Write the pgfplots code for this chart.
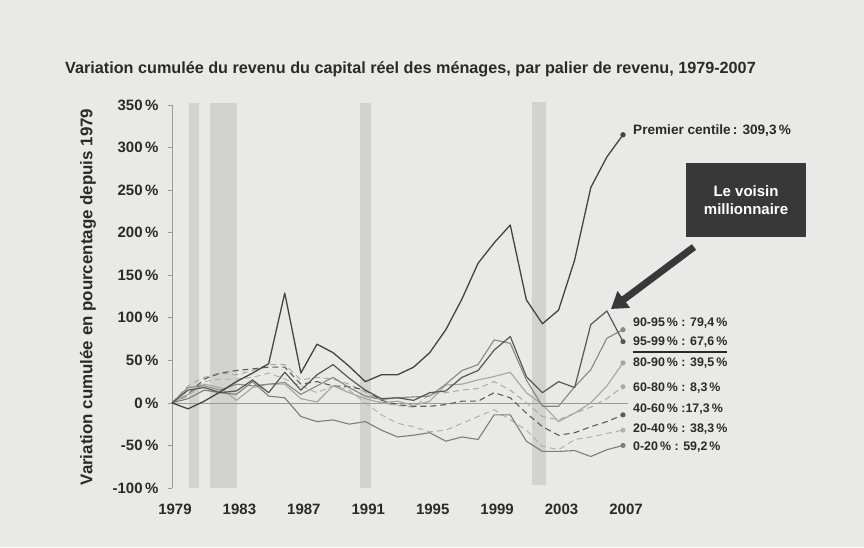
\documentclass[border=0pt]{standalone}
\usepackage{pgfplots}
\usepackage{pgfplotstable}
\pgfplotsset{compat=1.18}
\usepackage{fontspec}
\setmainfont{Liberation Sans}
\usetikzlibrary{arrows.meta}

\definecolor{bg}{HTML}{E9E9E7}
\definecolor{barc}{HTML}{D2D2D0}
\definecolor{txt}{HTML}{2A2A2A}
\definecolor{axc}{HTML}{9A9A9A}
\definecolor{cP}{HTML}{444444}
\definecolor{cA}{HTML}{575757}
\definecolor{cB}{HTML}{878787}
\definecolor{cC}{HTML}{A4A4A4}
\definecolor{cD}{HTML}{A9A9A9}
\definecolor{cE}{HTML}{5C5C5C}
\definecolor{cF}{HTML}{B0B0B0}
\definecolor{cG}{HTML}{7C7C7C}
\definecolor{boxc}{HTML}{383838}

% A = 95-99, B = 90-95, C = 80-90, D = 60-80, E = 40-60, F = 20-40, G = 0-20
\pgfplotstableread{
year P A B C D E F G
1979 0 0 0 0 0 0 0 0
1980 -7 15 18 10 20 10 8 5
1981 2 18 20 22 30 28 25 15
1982 13 12 15 18 35 35 28 12
1983 25 14 22 3 33 38 28 10
1984 35 27 20 18 38 40 30 25
1985 46 12 22 22 45 42 35 8
1986 129 36 24 22 45 42 28 6
1987 35 15 10 5 27 22 20 -16
1988 69 33 20 1 30 25 12 -22
1989 59 45 30 20 28 20 20 -20
1990 43 29 18 12 22 19 15 -25
1991 25 15 8 5 13 15 0 -22
1992 33 5 4 0 0 3 -14 -32
1993 33 6 6 2 -3 -2 -24 -40
1994 42 3 7 -3 -5 -4 -28 -38
1995 59 12 8 2 10 -4 -34 -35
1996 86 14 22 21 12 -2 -32 -45
1997 122 30 38 22 15 2 -24 -40
1998 164 38 45 27 17 2 -16 -43
1999 188 62 74 31 25 12 -8 -14
2000 209 78 70 36 15 6 -20 -14
2001 121 31 27 12 0 -12 -32 -45
2002 93 12 -4 -2 -16 -28 -51 -57
2003 109 25 -4 -22 -20 -38 -55 -57
2004 168 18 19 -12 -12 -35 -43 -56
2005 253 92 39 0 -5 -28 -40 -63
2006 289 108 76 20 5 -22 -36 -55
2007 315 72 86 47 19 -14 -32 -50
}\data

\begin{document}
\begin{tikzpicture}
\fill[bg] (0pt,0pt) rectangle (864pt,547pt);
\node[anchor=base west, inner sep=0pt, text=txt, font=\bfseries\fontsize{16.2}{16.5}\selectfont] at (65pt,473pt)
  {Variation cumulée du revenu du capital réel des ménages, par palier de revenu, 1979-2007};
\node[rotate=90, inner sep=0pt, text=txt, font=\bfseries\fontsize{16.9}{17}\selectfont] at (88pt,250pt)
  {Variation cumulée en pourcentage depuis 1979};
\begin{axis}[
  at={(172pt,59pt)}, anchor=south west,
  scale only axis, width=451pt, height=383pt,
  xmin=1979, xmax=2007, ymin=-100, ymax=350,
  clip=false,
  axis lines=left, axis line style={-, draw=axc, line width=0.6pt},
  x axis line style={draw=none},
  xtick={1979,1983,...,2007},
  ytick={-100,-50,...,350},
  xtick style={draw=none},
  ytick style={draw=axc, line width=0.6pt},
  tick align=outside, major tick length=4pt,
  /pgf/number format/assume math mode=true,
  /pgf/number format/1000 sep={},
  ticklabel style={font=\bfseries\fontsize{15}{15}\selectfont, text=txt},
  yticklabel={\pgfmathprintnumber{\tick}\,\%},
  yticklabel style={xshift=-6pt},
  xticklabel style={yshift=-8pt, xshift=3pt},
  every axis plot/.append style={line join=round},
]
% recession bands
\addplot[fill=barc, draw=none] coordinates {(1980.06,-100) (1980.68,-100) (1980.68,352) (1980.06,352)} -- cycle;
\addplot[fill=barc, draw=none] coordinates {(1981.36,-100) (1983.04,-100) (1983.04,352) (1981.36,352)} -- cycle;
\addplot[fill=barc, draw=none] coordinates {(1990.68,-100) (1991.36,-100) (1991.36,352) (1990.68,352)} -- cycle;
\addplot[fill=barc, draw=none] coordinates {(2001.36,-97) (2002.23,-97) (2002.23,354) (2001.36,354)} -- cycle;
% zero line
\addplot[axc, line width=0.6pt] coordinates {(1979,0) (2007.3,0)};
% series
\addplot[cF, line width=1pt, dash pattern=on 6pt off 4pt, mark=*, mark indices={29}, mark size=2pt, mark options={solid}] table[x=year,y=F] {\data};
\addplot[cD, line width=1pt, dash pattern=on 6pt off 4pt, mark=*, mark indices={29}, mark size=2pt, mark options={solid}] table[x=year,y=D] {\data};
\addplot[cE, line width=1.1pt, dash pattern=on 6pt off 4pt, mark=*, mark indices={29}, mark size=2pt, mark options={solid}] table[x=year,y=E] {\data};
\addplot[cC, line width=1.1pt, mark=*, mark indices={29}, mark size=2pt] table[x=year,y=C] {\data};
\addplot[cG, line width=1.1pt, mark=*, mark indices={29}, mark size=2pt] table[x=year,y=G] {\data};
\addplot[cB, line width=1.1pt, mark=*, mark indices={29}, mark size=2pt] table[x=year,y=B] {\data};
\addplot[cA, line width=1.2pt, mark=*, mark indices={29}, mark size=2pt] table[x=year,y=A] {\data};
\addplot[cP, line width=1.3pt, mark=*, mark indices={29}, mark size=2pt] table[x=year,y=P] {\data};
\end{axis}
% end labels
\node[anchor=west, inner sep=0pt, text=txt, font=\bfseries\fontsize{13.6}{14}\selectfont] at (633pt,416pt) {Premier centile\,: 309,3\,\%};
\begin{scope}[every node/.style={anchor=west, inner sep=0pt, text=txt, font=\bfseries\fontsize{12.4}{12.4}\selectfont}]
\node at (633pt,224pt) {90-95\,\% : 79,4\,\%};
\node at (633pt,205pt) {95-99\,\% : 67,6\,\%};
\node at (633pt,184pt) {80-90\,\% : 39,5\,\%};
\node at (633pt,159pt) {60-80\,\% : 8,3\,\%};
\node at (633pt,138pt) {40-60\,\% :17,3\,\%};
\node at (633pt,118pt) {20-40\,\% : 38,3\,\%};
\node at (633pt,100pt) {0-20\,\% : 59,2\,\%};
\end{scope}
\draw[txt, line width=1.6pt] (633pt,195pt) -- (727pt,195pt);
% annotation box and arrow
\fill[boxc] (686pt,310pt) rectangle (806pt,384pt);
\node[align=center, text=white, font=\bfseries\fontsize{15}{18}\selectfont] at (746pt,347pt) {Le voisin\\millionnaire};
\draw[boxc, line width=7pt, -{Triangle[width=20pt,length=16pt]}] (694pt,300pt) -- (611pt,238pt);
\end{tikzpicture}
\end{document}
